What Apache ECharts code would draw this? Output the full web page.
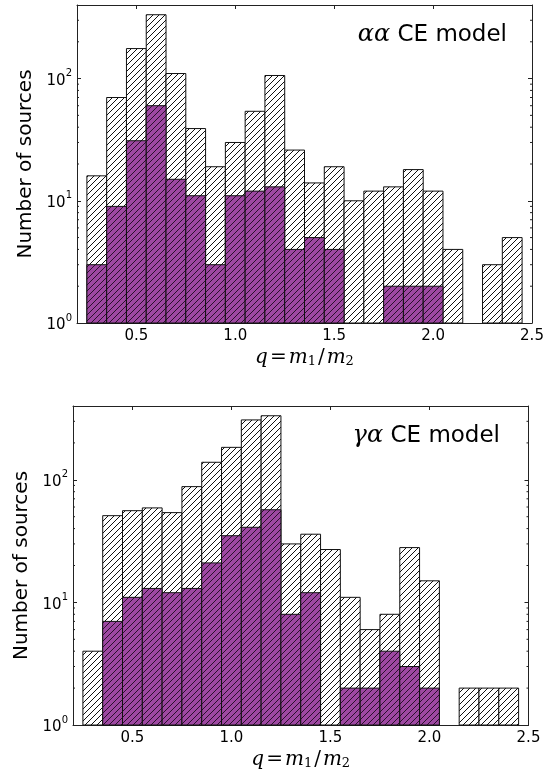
<!DOCTYPE html>
<html>
<head>
<meta charset="utf-8">
<script src="https://cdn.jsdelivr.net/npm/echarts@6/dist/echarts.min.js"></script>
<style>
html,body{margin:0;padding:0;background:#fff;}
#chart{width:558px;height:774px;}
</style>
</head>
<body>
<div id="chart"></div>
<script>
// ---- data ----
const binEdges = [0.25,0.35,0.45,0.55,0.65,0.75,0.85,0.95,1.05,1.15,1.25,1.35,1.45,1.55,1.65,1.75,1.85,1.95,2.05,2.15,2.25,2.35,2.45];
const aaTotal  = [16,70,176,333,110,39,19,30,54,106,26,14,19,10,12,13,18,12,4,0,3,5];
const aaPurple = [3,9,31,60,15,11,3,11,12,13,4,5,4,0,0,2,2,2,0,0,0,0];
const gaTotal  = [4,51,56,59,54,88,139,184,308,333,30,36,27,11,6,8,28,15,0,2,2,2];
const gaPurple = [0,7,11,13,12,13,21,35,41,57,8,12,0,2,2,4,3,2,0,0,0,0];
const xTicks = [0.5,1.0,1.5,2.0,2.5];
const yMinor = [2,3,4,5,6,7,8,9,20,30,40,50,60,70,80,90,200,300];
const xRange = [0.2, 2.5];
const yRange = [1, 400];
const titles = ['{g|αα} CE model', '{g|γα} CE model'];

// ---- hatch patterns ----
function makeHatch(bg, lineColor) {
  const s = 6;
  const c = document.createElement('canvas');
  c.width = s; c.height = s;
  const ctx = c.getContext('2d');
  ctx.fillStyle = bg;
  ctx.fillRect(0,0,s,s);
  ctx.strokeStyle = lineColor;
  ctx.lineWidth = 1;
  ctx.beginPath();
  ctx.moveTo(-1, s+1); ctx.lineTo(s+1, -1);
  ctx.moveTo(-1, 1); ctx.lineTo(1, -1);
  ctx.moveTo(s-1, s+1); ctx.lineTo(s+1, s-1);
  ctx.stroke();
  return {type:'pattern', image: c, repeat: 'repeat'};
}
const whiteHatch = makeHatch('#ffffff', '#111111');
const purpleHatch = makeHatch('#9e48a2', '#2a0f2c');

function barSeries(g, values, fill) {
  return {
    type: 'custom',
    xAxisIndex: g*2, yAxisIndex: g*2,
    data: values.map((v,i) => [binEdges[i], binEdges[i+1], v]),
    encode: {x: [0,1], y: 2},
    renderItem: function(params, api) {
      const v = api.value(2);
      if (!(v > 0)) return null;
      const p0 = api.coord([api.value(0), v]);
      const p1 = api.coord([api.value(1), yRange[0]]);
      return {
        type: 'rect',
        shape: {x: p0[0], y: p0[1], width: p1[0]-p0[0], height: p1[1]-p0[1]},
        style: {fill: fill, stroke: '#111', lineWidth: 1}
      };
    },
    silent: true
  };
}

function minorTickSeries(g) {
  return {
    type: 'custom',
    xAxisIndex: g*2, yAxisIndex: g*2,
    data: yMinor.map(v => [xRange[0], v]),
    encode: {x: 0, y: 1},
    z: 10,
    renderItem: function(params, api) {
      const v = api.value(1);
      const l = api.coord([xRange[0], v]);
      const r = api.coord([xRange[1], v]);
      return {
        type: 'group',
        children: [
          {type:'line', shape:{x1:l[0], y1:l[1], x2:l[0]+2, y2:l[1]}, style:{stroke:'#222', lineWidth:1}},
          {type:'line', shape:{x1:r[0], y1:r[1], x2:r[0]-2, y2:r[1]}, style:{stroke:'#222', lineWidth:1}}
        ]
      };
    },
    silent: true
  };
}

const axisLineStyle = {color: '#222', width: 1};
const tickFont = {fontSize: 15, color: '#000', fontFamily: 'DejaVu Sans'};
const xName = '{i|q}{n|=}{i|m}{s|1}{n|/}{i|m}{s|2}';
const xNameRich = {
  i: {fontFamily: 'DejaVu Serif', fontStyle: 'italic', fontSize: 20, color:'#000', lineHeight: 24, verticalAlign: 'bottom'},
  n: {fontFamily: 'DejaVu Serif', fontSize: 20, color:'#000', lineHeight: 24, verticalAlign: 'bottom', padding:[0,2,0,2]},
  s: {fontFamily: 'DejaVu Serif', fontSize: 13, color:'#000', lineHeight: 14, verticalAlign: 'bottom'}
};

function xAxes(g) {
  return [
    {
      type: 'value', gridIndex: g, position: 'bottom', min: xRange[0], max: xRange[1],
      axisLine: {show: true, onZero: false, lineStyle: axisLineStyle},
      axisTick: {show: true, inside: true, length: 4, customValues: xTicks, lineStyle: axisLineStyle},
      axisLabel: Object.assign({show: true, customValues: xTicks, margin: 6, formatter: v => v.toFixed(1)}, tickFont),
      splitLine: {show: false},
      name: xName, nameLocation: 'middle', nameGap: 33,
      nameTextStyle: {rich: xNameRich, verticalAlign: 'middle'}
    },
    {
      type: 'value', gridIndex: g, position: 'top', min: xRange[0], max: xRange[1],
      axisLine: {show: true, onZero: false, lineStyle: axisLineStyle},
      axisTick: {show: true, inside: true, length: 4, customValues: xTicks, lineStyle: axisLineStyle},
      axisLabel: {show: false},
      splitLine: {show: false}
    }
  ];
}

function yAxes(g) {
  return [
    {
      type: 'log', logBase: 10, gridIndex: g, position: 'left', min: yRange[0], max: yRange[1],
      axisLine: {show: true, onZero: false, lineStyle: axisLineStyle},
      axisTick: {show: true, inside: true, length: 4, lineStyle: axisLineStyle},
      axisLabel: {
        show: true, margin: 5,
        formatter: function(v) {
          const e = Math.log10(v);
          if (Math.abs(e - Math.round(e)) > 1e-6) return '';
          return '{b|10}{s|' + Math.round(e) + '}';
        },
        rich: {
          b: {fontSize: 15, fontFamily: 'DejaVu Sans', color: '#000', lineHeight: 20, verticalAlign: 'bottom'},
          s: {fontSize: 10, fontFamily: 'DejaVu Sans', color: '#000', lineHeight: 10, verticalAlign: 'top'}
        }
      },
      splitLine: {show: false}, minorTick: {show: false},
      name: 'Number of sources', nameLocation: 'middle', nameGap: 50,
      nameTextStyle: {fontSize: 20, fontFamily: 'DejaVu Sans', color: '#000', verticalAlign: 'middle'}
    },
    {
      type: 'log', logBase: 10, gridIndex: g, position: 'right', min: yRange[0], max: yRange[1],
      axisLine: {show: true, onZero: false, lineStyle: axisLineStyle},
      axisTick: {show: true, inside: true, length: 4, lineStyle: axisLineStyle},
      axisLabel: {show: false},
      splitLine: {show: false}
    }
  ];
}

const titleText = {fontSize: 23, fontWeight: 'normal', fontFamily: 'DejaVu Sans', color: '#000',
  rich: {g: {fontFamily: 'DejaVu Serif', fontStyle: 'italic', fontSize: 24, color: '#000'}}};

const option = {
  backgroundColor: '#fff',
  animation: false,
  title: [
    {text: titles[0], right: 51, top: 23, padding: 0, textStyle: titleText},
    {text: titles[1], right: 58, top: 424, padding: 0, textStyle: titleText}
  ],
  grid: [
    {left: 77, right: 26, top: 5, height: 318},
    {left: 73, right: 29.5, top: 406, height: 319}
  ],
  xAxis: xAxes(0).concat(xAxes(1)),
  yAxis: yAxes(0).concat(yAxes(1)),
  series: [
    barSeries(0, aaTotal, whiteHatch),
    barSeries(0, aaPurple, purpleHatch),
    minorTickSeries(0),
    barSeries(1, gaTotal, whiteHatch),
    barSeries(1, gaPurple, purpleHatch),
    minorTickSeries(1)
  ]
};

const chart = echarts.init(document.getElementById('chart'), null, {renderer: 'canvas'});
chart.setOption(option);
</script>
</body>
</html>
